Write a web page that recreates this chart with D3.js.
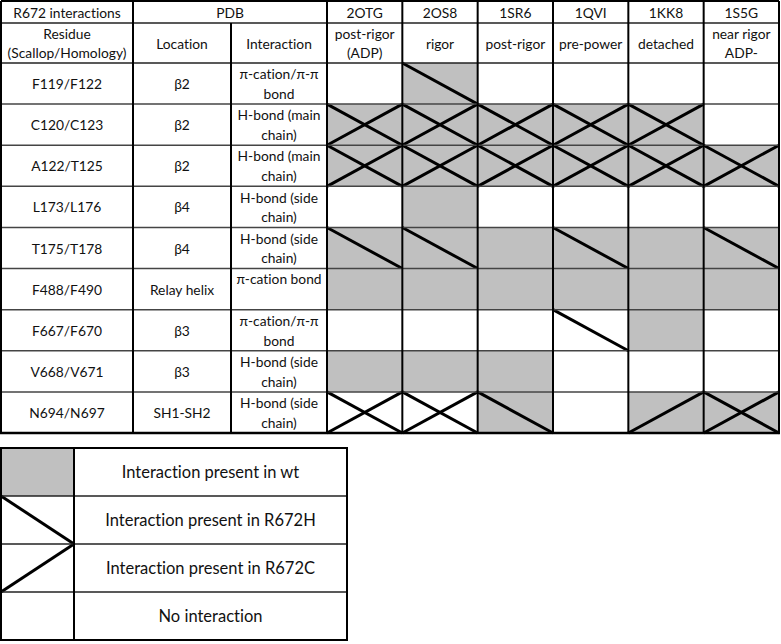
<!DOCTYPE html>
<html><head><meta charset="utf-8">
<script src="https://cdn.jsdelivr.net/npm/d3@7"></script>
<style>
html,body{margin:0;padding:0;background:#fff;}
svg text{font-family:Lato,"Open Sans",sans-serif;fill:#111;font-variant-ligatures:none;font-feature-settings:"liga" 0;}
</style></head>
<body><svg id="c" width="781" height="644"></svg>
<script>
// ---- data ----
const pdbIds = ["2OTG","2OS8","1SR6","1QVI","1KK8","1S5G"];
const states = [["post-rigor","(ADP)"],["rigor"],["post-rigor"],["pre-power"],["detached"],["near rigor","ADP-"]];
const residues = ["F119/F122","C120/C123","A122/T125","L173/L176","T175/T178","F488/F490","F667/F670","V668/V671","N694/N697"];
const locations = ["β2","β2","β2","β4","β4","Relay helix","β3","β3","SH1-SH2"];
const interactions = [["π-cation/π-π","bond"],["H-bond (main","chain)"],["H-bond (main","chain)"],["H-bond (side","chain)"],["H-bond (side","chain)"],["π-cation bond"],["π-cation/π-π","bond"],["H-bond (side","chain)"],["H-bond (side","chain)"]];
// 1 = interaction present (rows = residues, cols = pdbIds)
const wt = [
 [0,1,0,0,0,0],
 [1,1,1,1,1,0],
 [1,1,1,1,1,1],
 [0,1,0,0,0,0],
 [1,1,1,1,1,1],
 [1,1,1,1,1,1],
 [0,0,0,0,1,0],
 [1,1,1,0,0,0],
 [0,0,1,0,1,1]];
const r672H = [
 [0,1,0,0,0,0],
 [1,1,1,1,1,0],
 [1,1,1,1,1,1],
 [0,0,0,0,0,0],
 [1,1,0,1,0,1],
 [0,0,0,0,0,0],
 [0,0,0,1,0,0],
 [0,0,0,0,0,0],
 [1,1,1,0,0,1]];
const r672C = [
 [0,0,0,0,0,0],
 [1,1,1,1,1,0],
 [1,1,1,1,1,1],
 [0,0,0,0,0,0],
 [0,0,0,0,0,0],
 [0,0,0,0,0,0],
 [0,0,0,0,0,0],
 [0,0,0,0,0,0],
 [1,1,0,0,1,1]];
const legendLabels = ["Interaction present in wt","Interaction present in R672H","Interaction present in R672C","No interaction"];
const legendKeys = [{w:1,h:0,c:0},{w:0,h:1,c:0},{w:0,h:0,c:1},{w:0,h:0,c:0}];

// ---- layout ----
const svg = d3.select("#c");
const GRAY = "#c0c0c0";
const fs = 13.8;
const infoCols = [1,133,231,327];
const tableRight = 779;
const x = d3.scaleBand().domain(d3.range(pdbIds.length)).range([327, tableRight]);
const headTop = 1, head1 = 23, head2 = 63, tableBottom = 433;
const y = d3.scaleBand().domain(d3.range(residues.length)).range([head2, tableBottom]);

const gCells = svg.append("g");
const gLines = svg.append("g");
const gText = svg.append("g");

residues.forEach((r,i)=>{
  pdbIds.forEach((p,j)=>{
    const x0=x(j), x1=x(j)+x.bandwidth(), y0=y(i), y1=y(i)+y.bandwidth();
    if(wt[i][j]) gCells.append("rect").attr("x",x0).attr("y",y0).attr("width",x1-x0).attr("height",y1-y0).attr("fill",GRAY);
    if(r672H[i][j]) gCells.append("line").attr("x1",x0).attr("y1",y0).attr("x2",x1).attr("y2",y1).attr("stroke","#000").attr("stroke-width",3);
    if(r672C[i][j]) gCells.append("line").attr("x1",x0).attr("y1",y1).attr("x2",x1).attr("y2",y0).attr("stroke","#000").attr("stroke-width",3);
  });
});

function hline(x1,x2,yy,w,col){gLines.append("line").attr("x1",x1).attr("x2",x2).attr("y1",yy).attr("y2",yy).attr("stroke",col||"#000").attr("stroke-width",w);}
function vline(xx,y1,y2,w,col){gLines.append("line").attr("x1",xx).attr("x2",xx).attr("y1",y1).attr("y2",y2).attr("stroke",col||"#000").attr("stroke-width",w);}
hline(1,tableRight,headTop,2);
hline(1,tableRight,head1,1.5,"#222");
hline(1,tableRight,head2,1.5,"#222");
residues.forEach((r,i)=>{ if(i>0) hline(1,tableRight,y(i),1.5,"#444"); });
hline(0,tableRight+1,tableBottom,2.5);
vline(1,headTop,tableBottom,2);
vline(133,headTop,tableBottom,2);
vline(231,head1,tableBottom,2);
vline(327,headTop,tableBottom,2);
pdbIds.forEach((p,j)=>{ if(j>0) vline(x(j),headTop,tableBottom,2); });
vline(tableRight,headTop,tableBottom,2);

function txt(cx,cy,lines,size){
  const n=lines.length, lh=size*1.42;
  lines.forEach((l,k)=>{
    gText.append("text").attr("x",cx).attr("y",cy+(k-(n-1)/2)*lh).attr("text-anchor","middle")
      .attr("dominant-baseline","central").style("font-size",size+"px").text(l);
  });
}
const colMid = k => (infoCols[k]+infoCols[k+1])/2;
txt(67,12,["R672 interactions"],fs);
txt((133+327)/2,12,["PDB"],fs);
pdbIds.forEach((p,j)=>txt(x(j)+x.bandwidth()/2,12,[p],fs));
txt(colMid(0),43,["Residue","(Scallop/Homology)"],fs);
txt(colMid(1),43,["Location"],fs);
txt(colMid(2),43,["Interaction"],fs);
states.forEach((s,j)=>txt(x(j)+x.bandwidth()/2,43,s,fs));
residues.forEach((r,i)=>{
  const cy=y(i)+y.bandwidth()/2;
  txt(colMid(0),cy,[r],fs);
  txt(colMid(1),cy,[locations[i]],fs);
  const it=interactions[i];
  txt(colMid(2), it.length===1? y(i)+10 : cy, it, fs);
});

const lx0=1, lxMid=74, lx1=347;
const ly = d3.scaleBand().domain(d3.range(legendLabels.length)).range([448,640]);
const gLeg = svg.append("g");
legendLabels.forEach((l,i)=>{
  const y0=ly(i), y1=ly(i)+ly.bandwidth(), k=legendKeys[i];
  if(k.w) gLeg.append("rect").attr("x",lx0).attr("y",y0).attr("width",lxMid-lx0).attr("height",y1-y0).attr("fill",GRAY);
  if(k.h) gLeg.append("line").attr("x1",lx0).attr("y1",y0).attr("x2",lxMid).attr("y2",y1).attr("stroke","#000").attr("stroke-width",3);
  if(k.c) gLeg.append("line").attr("x1",lx0).attr("y1",y1).attr("x2",lxMid).attr("y2",y0).attr("stroke","#000").attr("stroke-width",3);
  gLeg.append("text").attr("x",(lxMid+lx1)/2).attr("y",(y0+y1)/2).attr("text-anchor","middle")
    .attr("dominant-baseline","central").style("font-size","16.5px").text(l);
  if(i>0) gLeg.append("line").attr("x1",lx0).attr("x2",lx1).attr("y1",y0).attr("y2",y0).attr("stroke","#222").attr("stroke-width",1.5);
});
gLeg.append("rect").attr("x",lx0).attr("y",448).attr("width",lx1-lx0).attr("height",192).attr("fill","none").attr("stroke","#000").attr("stroke-width",2);
gLeg.append("line").attr("x1",lxMid).attr("x2",lxMid).attr("y1",448).attr("y2",640).attr("stroke","#000").attr("stroke-width",2);
</script></body></html>
